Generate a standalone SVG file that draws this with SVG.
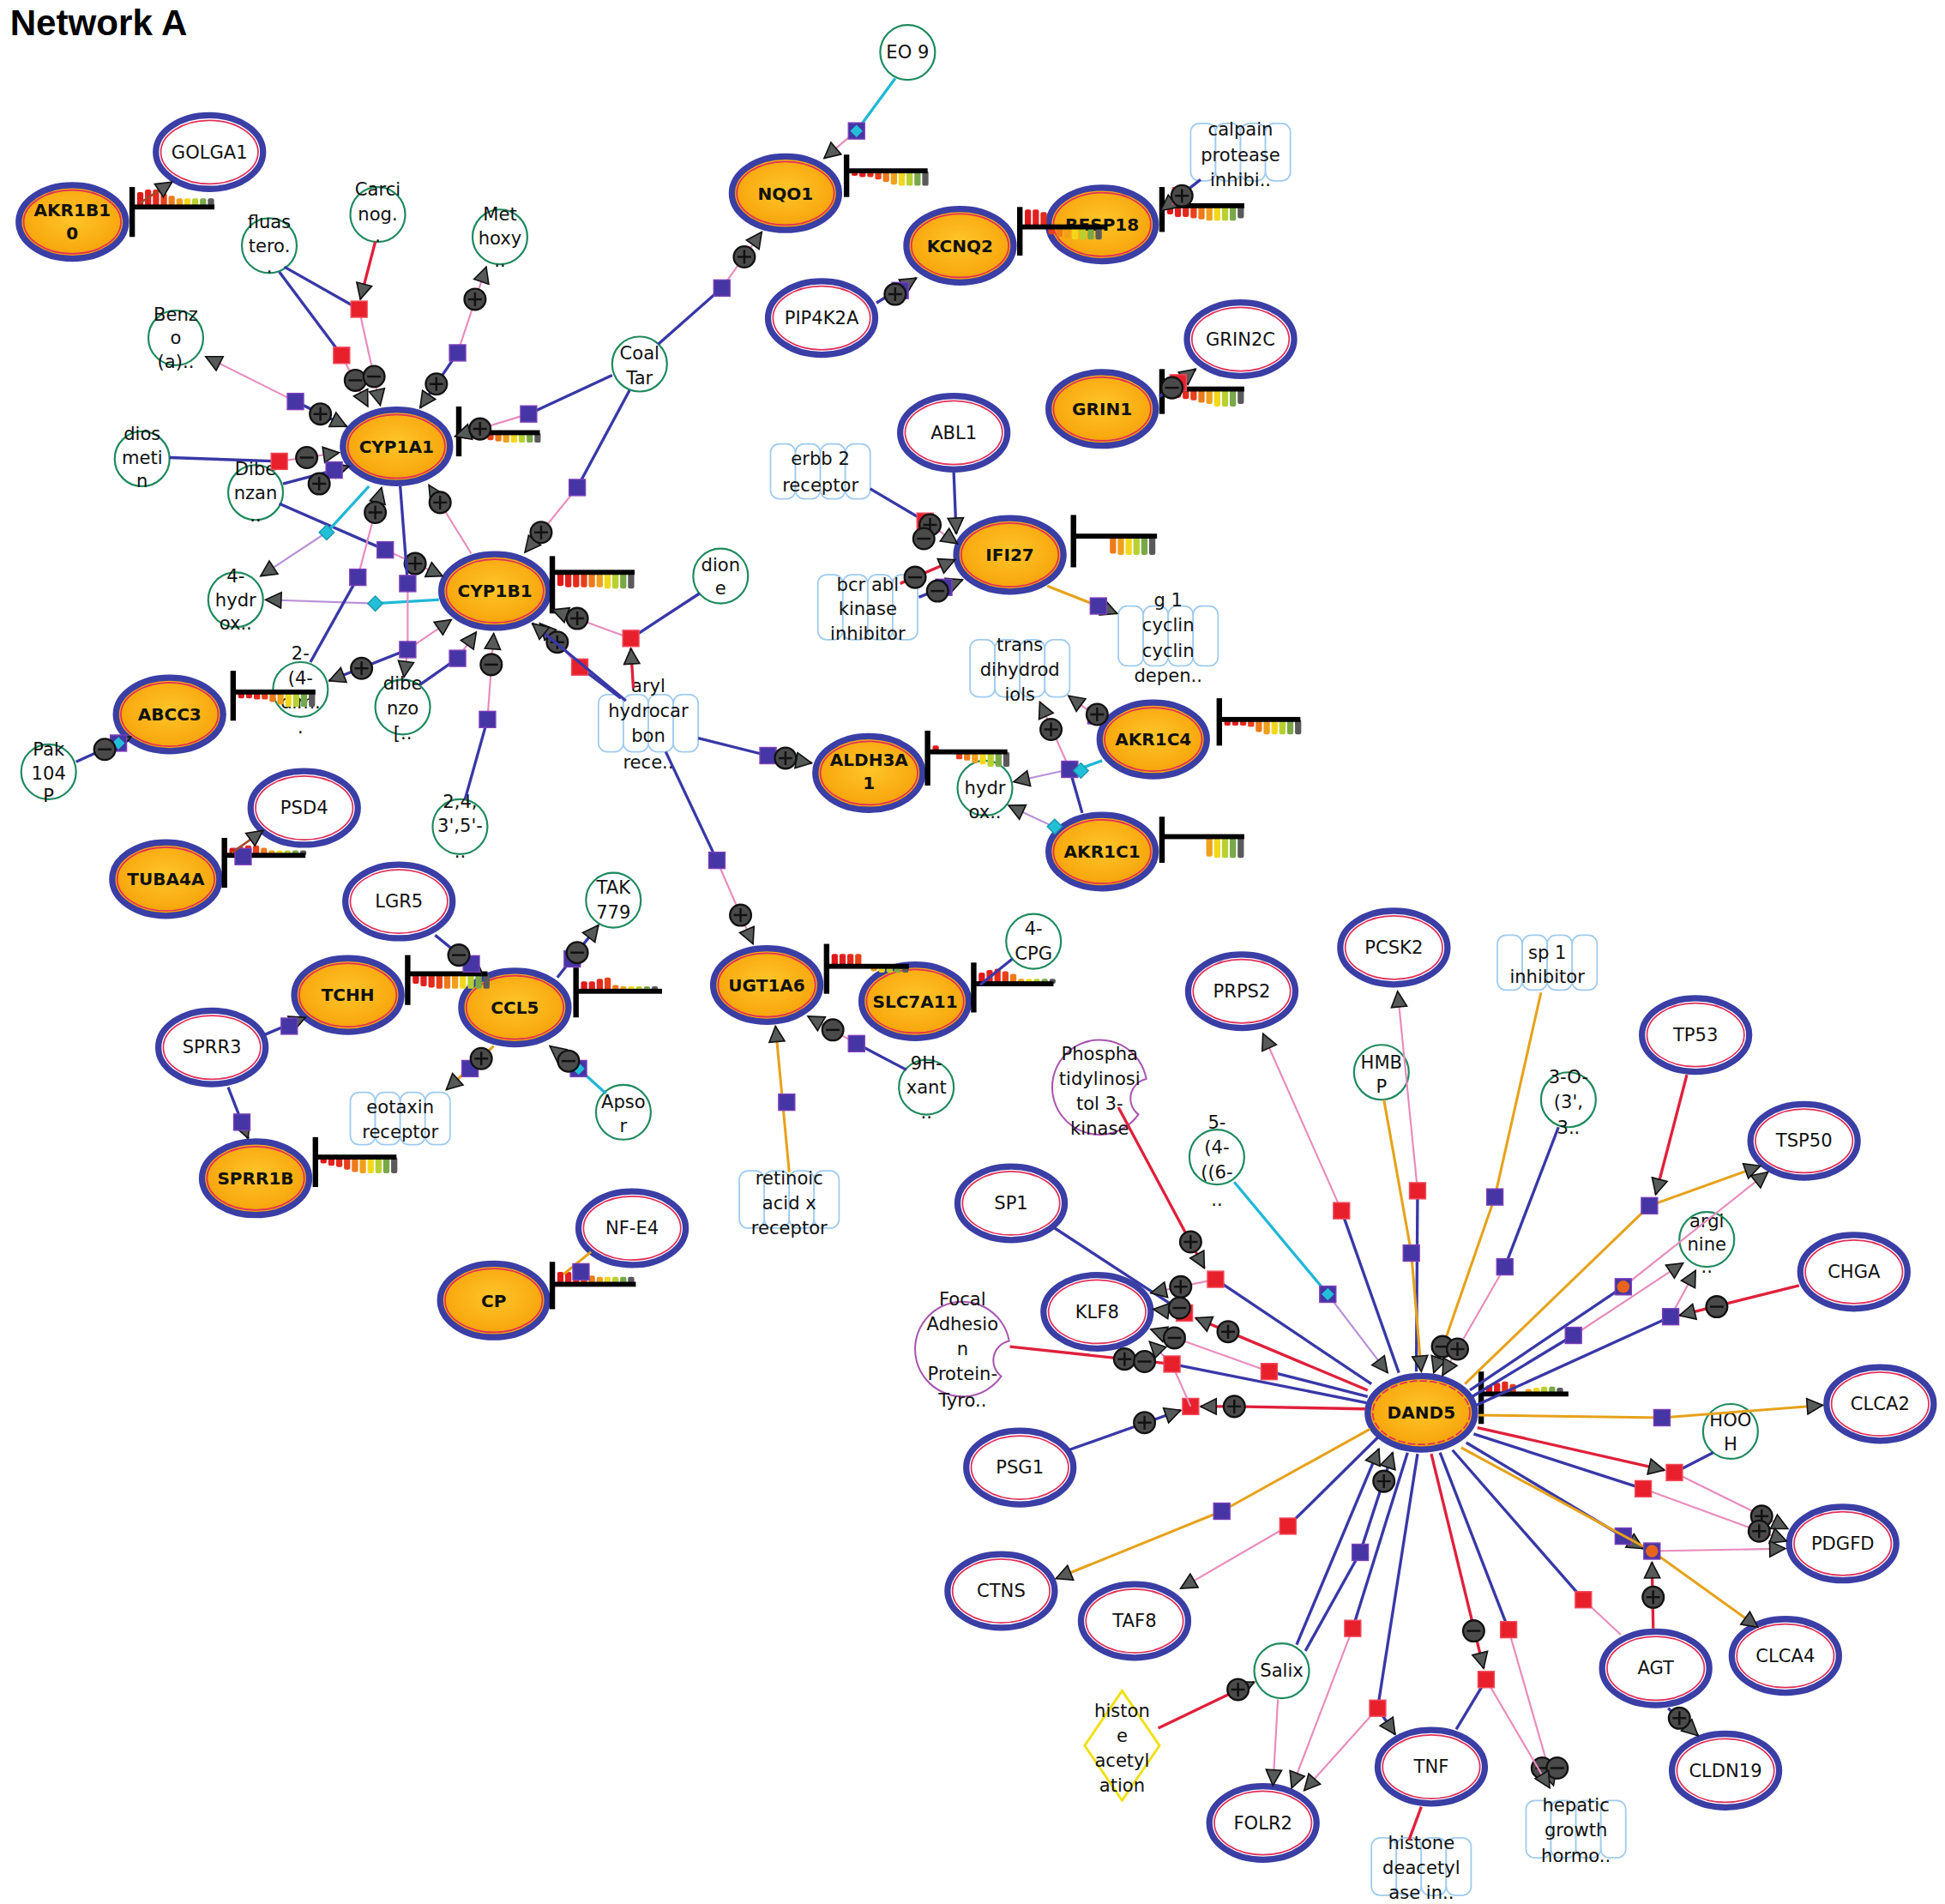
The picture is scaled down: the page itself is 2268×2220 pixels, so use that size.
<svg xmlns="http://www.w3.org/2000/svg" width="2268" height="2220" viewBox="0 0 2268 2220">
<style>
.t{font-family:'DejaVu Sans',Verdana,sans-serif;font-size:14.5px;text-anchor:middle;fill:#111}
.tb{font-family:'DejaVu Sans',Verdana,sans-serif;font-size:13.8px;font-weight:bold;text-anchor:middle;fill:#111}
.title{font-family:'Liberation Sans',Arial,sans-serif;font-size:29px;font-weight:bold;fill:#000}
.go{stroke:#3a3ea5;stroke-width:5;fill:url(#og)}
.gw{stroke:#3a3ea5;stroke-width:5;fill:#fff}
.gi{stroke:#e0305a;stroke-width:1.2;fill:none}
.ch{stroke:#1e8a5e;stroke-width:1.5;fill:#fff}
.bx rect{stroke:#9fcbee;stroke-width:1.2;fill:#fff}
.pm{stroke:#a855b0;stroke-width:1.4;fill:#fff}
.dm{stroke:#f0e010;stroke-width:2;fill:#fff}
.b{stroke:#3838a8;stroke-width:2.3;fill:none}
.p{stroke:#e88cbc;stroke-width:1.5;fill:none}
.r{stroke:#e0203c;stroke-width:2.3;fill:none}
.c{stroke:#20b8d6;stroke-width:2.3;fill:none}
.o{stroke:#e6a21a;stroke-width:2.1;fill:none}
.l{stroke:#b890d8;stroke-width:1.5;fill:none}
.n{stroke:#a04a2a;stroke-width:1.8;fill:none}
.a{marker-end:url(#ar)}
.bk{fill:#000}
.c0{fill:#e01818}.c1{fill:#e22020}.c2{fill:#e42a1c}.c3{fill:#e8401a}.c4{fill:#ee7a1a}.c5{fill:#f0a01a}.c6{fill:#f2d81a}.c7{fill:#b8d030}.c8{fill:#78a848}.c9{fill:#5a5a5a}
</style>
<defs>
<radialGradient id="og" cx="50%" cy="45%" r="60%"><stop offset="0" stop-color="#ffc52a"/><stop offset="0.7" stop-color="#f8aa10"/><stop offset="1" stop-color="#f29800"/></radialGradient>
<marker id="ar" viewBox="0 0 12 12" refX="11" refY="6" markerWidth="15" markerHeight="15" markerUnits="userSpaceOnUse" orient="auto"><path d="M1,1 L11,6 L1,11 z" fill="#565a58" stroke="#111" stroke-width="0.9"/></marker>
<g id="pl"><circle r="8.5" fill="#4a4a4a" stroke="#111" stroke-width="1.6"/><path d="M-5.5,0H5.5M0,-5.5V5.5" stroke="#111" stroke-width="1.7"/></g>
<g id="mi"><circle r="8.5" fill="#4a4a4a" stroke="#111" stroke-width="1.6"/><path d="M-5.5,0H5.5" stroke="#111" stroke-width="1.7"/></g>
<rect id="sb" x="-6.5" y="-6.5" width="13" height="13" fill="#4535a5" stroke="#7a3fb8" stroke-width="1"/>
<rect id="sr" x="-6.5" y="-6.5" width="13" height="13" fill="#e8202c" stroke="#f04a5a" stroke-width="1"/>
<g id="sc"><use href="#sb"/><path d="M0,-5 L5,0 L0,5 L-5,0z" fill="#22c0d8"/></g>
<g id="so"><use href="#sb"/><circle r="5" fill="#e8641c"/></g>
<path id="dc" d="M0,-6 L6,0 L0,6 L-6,0z" fill="#22c0d8" stroke="#1a9ab0"/>
</defs>
<rect width="2268" height="2220" fill="#fff"/>
<g transform="scale(1.4538)">
<text x="8" y="28" class="title">Network A</text>

<g id="nodes">
<g id="AKR1B10"><ellipse class="go" cx="58" cy="178" rx="43" ry="29.5"/><ellipse class="gi" cx="58" cy="178" rx="39" ry="25.5"/><text class="tb" x="58" y="173">AKR1B1</text><text class="tb" x="58" y="192">0</text></g>
<g id="GOLGA1"><ellipse class="gw" cx="168" cy="122" rx="43" ry="29.5"/><ellipse class="gi" cx="168" cy="122" rx="39" ry="25.5"/><text class="t" x="168" y="127">GOLGA1</text></g>
<g id="CYP1A1"><ellipse class="go" cx="318" cy="358" rx="43" ry="29.5"/><ellipse class="gi" cx="318" cy="358" rx="39" ry="25.5"/><text class="tb" x="318" y="363">CYP1A1</text></g>
<g id="CYP1B1"><ellipse class="go" cx="397" cy="474" rx="43" ry="29.5"/><ellipse class="gi" cx="397" cy="474" rx="39" ry="25.5"/><text class="tb" x="397" y="479">CYP1B1</text></g>
<g id="NQO1"><ellipse class="go" cx="630" cy="155" rx="43" ry="29.5"/><ellipse class="gi" cx="630" cy="155" rx="39" ry="25.5"/><text class="tb" x="630" y="160">NQO1</text></g>
<g id="RESP18"><ellipse class="go" cx="884" cy="180" rx="43" ry="29.5"/><ellipse class="gi" cx="884" cy="180" rx="39" ry="25.5"/><text class="tb" x="884" y="185">RESP18</text></g>
<g id="KCNQ2"><ellipse class="go" cx="770" cy="197" rx="43" ry="29.5"/><ellipse class="gi" cx="770" cy="197" rx="39" ry="25.5"/><text class="tb" x="770" y="202">KCNQ2</text></g>
<g id="PIP4K2A"><ellipse class="gw" cx="659" cy="255" rx="43" ry="29.5"/><ellipse class="gi" cx="659" cy="255" rx="39" ry="25.5"/><text class="t" x="659" y="260">PIP4K2A</text></g>
<g id="GRIN2C"><ellipse class="gw" cx="995" cy="272" rx="43" ry="29.5"/><ellipse class="gi" cx="995" cy="272" rx="39" ry="25.5"/><text class="t" x="995" y="277">GRIN2C</text></g>
<g id="GRIN1"><ellipse class="go" cx="884" cy="328" rx="43" ry="29.5"/><ellipse class="gi" cx="884" cy="328" rx="39" ry="25.5"/><text class="tb" x="884" y="333">GRIN1</text></g>
<g id="ABL1"><ellipse class="gw" cx="765" cy="347" rx="43" ry="29.5"/><ellipse class="gi" cx="765" cy="347" rx="39" ry="25.5"/><text class="t" x="765" y="352">ABL1</text></g>
<g id="IFI27"><ellipse class="go" cx="810" cy="445" rx="43" ry="29.5"/><ellipse class="gi" cx="810" cy="445" rx="39" ry="25.5"/><text class="tb" x="810" y="450">IFI27</text></g>
<g id="ABCC3"><ellipse class="go" cx="136" cy="573" rx="43" ry="29.5"/><ellipse class="gi" cx="136" cy="573" rx="39" ry="25.5"/><text class="tb" x="136" y="578">ABCC3</text></g>
<g id="PSD4"><ellipse class="gw" cx="244" cy="648" rx="43" ry="29.5"/><ellipse class="gi" cx="244" cy="648" rx="39" ry="25.5"/><text class="t" x="244" y="653">PSD4</text></g>
<g id="TUBA4A"><ellipse class="go" cx="133" cy="705" rx="43" ry="29.5"/><ellipse class="gi" cx="133" cy="705" rx="39" ry="25.5"/><text class="tb" x="133" y="710">TUBA4A</text></g>
<g id="ALDH3A1"><ellipse class="go" cx="697" cy="620" rx="43" ry="29.5"/><ellipse class="gi" cx="697" cy="620" rx="39" ry="25.5"/><text class="tb" x="697" y="614">ALDH3A</text><text class="tb" x="697" y="633">1</text></g>
<g id="AKR1C4"><ellipse class="go" cx="925" cy="593" rx="43" ry="29.5"/><ellipse class="gi" cx="925" cy="593" rx="39" ry="25.5"/><text class="tb" x="925" y="598">AKR1C4</text></g>
<g id="AKR1C1"><ellipse class="go" cx="884" cy="683" rx="43" ry="29.5"/><ellipse class="gi" cx="884" cy="683" rx="39" ry="25.5"/><text class="tb" x="884" y="688">AKR1C1</text></g>
<g id="LGR5"><ellipse class="gw" cx="320" cy="723" rx="43" ry="29.5"/><ellipse class="gi" cx="320" cy="723" rx="39" ry="25.5"/><text class="t" x="320" y="728">LGR5</text></g>
<g id="TCHH"><ellipse class="go" cx="279" cy="798" rx="43" ry="29.5"/><ellipse class="gi" cx="279" cy="798" rx="39" ry="25.5"/><text class="tb" x="279" y="803">TCHH</text></g>
<g id="CCL5"><ellipse class="go" cx="413" cy="808" rx="43" ry="29.5"/><ellipse class="gi" cx="413" cy="808" rx="39" ry="25.5"/><text class="tb" x="413" y="813">CCL5</text></g>
<g id="SPRR3"><ellipse class="gw" cx="170" cy="840" rx="43" ry="29.5"/><ellipse class="gi" cx="170" cy="840" rx="39" ry="25.5"/><text class="t" x="170" y="845">SPRR3</text></g>
<g id="SPRR1B"><ellipse class="go" cx="205" cy="945" rx="43" ry="29.5"/><ellipse class="gi" cx="205" cy="945" rx="39" ry="25.5"/><text class="tb" x="205" y="950">SPRR1B</text></g>
<g id="UGT1A6"><ellipse class="go" cx="615" cy="790" rx="43" ry="29.5"/><ellipse class="gi" cx="615" cy="790" rx="39" ry="25.5"/><text class="tb" x="615" y="795">UGT1A6</text></g>
<g id="SLC7A11"><ellipse class="go" cx="734" cy="803" rx="43" ry="29.5"/><ellipse class="gi" cx="734" cy="803" rx="39" ry="25.5"/><text class="tb" x="734" y="808">SLC7A11</text></g>
<g id="NF-E4"><ellipse class="gw" cx="507" cy="985" rx="43" ry="29.5"/><ellipse class="gi" cx="507" cy="985" rx="39" ry="25.5"/><text class="t" x="507" y="990">NF-E4</text></g>
<g id="CP"><ellipse class="go" cx="396" cy="1043" rx="43" ry="29.5"/><ellipse class="gi" cx="396" cy="1043" rx="39" ry="25.5"/><text class="tb" x="396" y="1048">CP</text></g>
<g id="PRPS2"><ellipse class="gw" cx="996" cy="795" rx="43" ry="29.5"/><ellipse class="gi" cx="996" cy="795" rx="39" ry="25.5"/><text class="t" x="996" y="800">PRPS2</text></g>
<g id="PCSK2"><ellipse class="gw" cx="1118" cy="760" rx="43" ry="29.5"/><ellipse class="gi" cx="1118" cy="760" rx="39" ry="25.5"/><text class="t" x="1118" y="765">PCSK2</text></g>
<g id="TP53"><ellipse class="gw" cx="1360" cy="830" rx="43" ry="29.5"/><ellipse class="gi" cx="1360" cy="830" rx="39" ry="25.5"/><text class="t" x="1360" y="835">TP53</text></g>
<g id="TSP50"><ellipse class="gw" cx="1447" cy="915" rx="43" ry="29.5"/><ellipse class="gi" cx="1447" cy="915" rx="39" ry="25.5"/><text class="t" x="1447" y="920">TSP50</text></g>
<g id="SP1"><ellipse class="gw" cx="811" cy="965" rx="43" ry="29.5"/><ellipse class="gi" cx="811" cy="965" rx="39" ry="25.5"/><text class="t" x="811" y="970">SP1</text></g>
<g id="KLF8"><ellipse class="gw" cx="880" cy="1052" rx="43" ry="29.5"/><ellipse class="gi" cx="880" cy="1052" rx="39" ry="25.5"/><text class="t" x="880" y="1057">KLF8</text></g>
<g id="CHGA"><ellipse class="gw" cx="1487" cy="1020" rx="43" ry="29.5"/><ellipse class="gi" cx="1487" cy="1020" rx="39" ry="25.5"/><text class="t" x="1487" y="1025">CHGA</text></g>
<g id="CLCA2"><ellipse class="gw" cx="1508" cy="1126" rx="43" ry="29.5"/><ellipse class="gi" cx="1508" cy="1126" rx="39" ry="25.5"/><text class="t" x="1508" y="1131">CLCA2</text></g>
<g id="PSG1"><ellipse class="gw" cx="818" cy="1177" rx="43" ry="29.5"/><ellipse class="gi" cx="818" cy="1177" rx="39" ry="25.5"/><text class="t" x="818" y="1182">PSG1</text></g>
<g id="PDGFD"><ellipse class="gw" cx="1478" cy="1238" rx="43" ry="29.5"/><ellipse class="gi" cx="1478" cy="1238" rx="39" ry="25.5"/><text class="t" x="1478" y="1243">PDGFD</text></g>
<g id="CTNS"><ellipse class="gw" cx="803" cy="1276" rx="43" ry="29.5"/><ellipse class="gi" cx="803" cy="1276" rx="39" ry="25.5"/><text class="t" x="803" y="1281">CTNS</text></g>
<g id="TAF8"><ellipse class="gw" cx="910" cy="1300" rx="43" ry="29.5"/><ellipse class="gi" cx="910" cy="1300" rx="39" ry="25.5"/><text class="t" x="910" y="1305">TAF8</text></g>
<g id="AGT"><ellipse class="gw" cx="1328" cy="1338" rx="43" ry="29.5"/><ellipse class="gi" cx="1328" cy="1338" rx="39" ry="25.5"/><text class="t" x="1328" y="1343">AGT</text></g>
<g id="CLCA4"><ellipse class="gw" cx="1432" cy="1328" rx="43" ry="29.5"/><ellipse class="gi" cx="1432" cy="1328" rx="39" ry="25.5"/><text class="t" x="1432" y="1333">CLCA4</text></g>
<g id="CLDN19"><ellipse class="gw" cx="1384" cy="1420" rx="43" ry="29.5"/><ellipse class="gi" cx="1384" cy="1420" rx="39" ry="25.5"/><text class="t" x="1384" y="1425">CLDN19</text></g>
<g id="TNF"><ellipse class="gw" cx="1148" cy="1417" rx="43" ry="29.5"/><ellipse class="gi" cx="1148" cy="1417" rx="39" ry="25.5"/><text class="t" x="1148" y="1422">TNF</text></g>
<g id="FOLR2"><ellipse class="gw" cx="1013" cy="1462" rx="43" ry="29.5"/><ellipse class="gi" cx="1013" cy="1462" rx="39" ry="25.5"/><text class="t" x="1013" y="1467">FOLR2</text></g>
<g id="DAND5"><ellipse class="go" cx="1140" cy="1133" rx="43" ry="29.5"/><ellipse class="gi" cx="1140" cy="1133" rx="39" ry="25.5" stroke-dasharray="6 2"/><text class="tb" x="1140" y="1138">DAND5</text></g>

<g id="chem_EO9"><circle class="ch" cx="728" cy="42" r="22"/><text class="t" x="728" y="47">EO 9</text></g>
<g id="chem_Carci"><circle class="ch" cx="303" cy="172" r="22"/><text class="t" x="303" y="157">Carci</text><text class="t" x="303" y="177">nog.</text><text class="t" x="303" y="194">.</text></g>
<g id="chem_fluas"><circle class="ch" cx="216" cy="197" r="22"/><text class="t" x="216" y="183">fluas</text><text class="t" x="216" y="202">tero.</text><text class="t" x="216" y="219">.</text></g>
<g id="chem_Met"><circle class="ch" cx="401" cy="190" r="22"/><text class="t" x="401" y="177">Met</text><text class="t" x="401" y="196">hoxy</text><text class="t" x="401" y="214">..</text></g>
<g id="chem_Benz"><circle class="ch" cx="141" cy="271" r="22"/><text class="t" x="141" y="257">Benz</text><text class="t" x="141" y="276">o</text><text class="t" x="141" y="295">(a)..</text></g>
<g id="chem_CoalTar"><circle class="ch" cx="513" cy="292" r="22"/><text class="t" x="513" y="288">Coal</text><text class="t" x="513" y="308">Tar</text></g>
<g id="chem_dios"><circle class="ch" cx="114" cy="368" r="22"/><text class="t" x="114" y="353">dios</text><text class="t" x="114" y="372">meti</text><text class="t" x="114" y="391">n</text></g>
<g id="chem_Dibenzan"><circle class="ch" cx="205" cy="395" r="22"/><text class="t" x="205" y="381">Dibe</text><text class="t" x="205" y="400">nzan</text><text class="t" x="205" y="418">..</text></g>
<g id="chem_4hydr"><circle class="ch" cx="189" cy="481" r="22"/><text class="t" x="189" y="467">4-</text><text class="t" x="189" y="486">hydr</text><text class="t" x="189" y="505">ox..</text></g>
<g id="chem_24dim"><circle class="ch" cx="241" cy="553" r="22"/><text class="t" x="241" y="529">2-</text><text class="t" x="241" y="549">(4-</text><text class="t" x="241" y="568">dim.</text><text class="t" x="241" y="588">.</text></g>
<g id="chem_dibenzo"><circle class="ch" cx="323" cy="567" r="22"/><text class="t" x="323" y="553">dibe</text><text class="t" x="323" y="573">nzo</text><text class="t" x="323" y="593">[..</text></g>
<g id="chem_2435"><circle class="ch" cx="369" cy="663" r="22"/><text class="t" x="369" y="648">2,4,</text><text class="t" x="369" y="667">3',5'-</text><text class="t" x="369" y="688">..</text></g>
<g id="chem_Pak104P"><circle class="ch" cx="39" cy="619" r="22"/><text class="t" x="39" y="606">Pak</text><text class="t" x="39" y="625">104</text><text class="t" x="39" y="643">P</text></g>
<g id="chem_dione"><circle class="ch" cx="578" cy="462" r="22"/><text class="t" x="578" y="458">dion</text><text class="t" x="578" y="477">e</text></g>
<g id="chem_hydrox"><circle class="ch" cx="790" cy="632" r="22"/><text class="t" x="790" y="637">hydr</text><text class="t" x="790" y="656">ox..</text></g>
<g id="chem_4CPG"><circle class="ch" cx="829" cy="755" r="22"/><text class="t" x="829" y="750">4-</text><text class="t" x="829" y="770">CPG</text></g>
<g id="chem_9Hxant"><circle class="ch" cx="743" cy="872" r="22"/><text class="t" x="743" y="858">9H-</text><text class="t" x="743" y="877">xant</text><text class="t" x="743" y="897">..</text></g>
<g id="chem_TAK779"><circle class="ch" cx="492" cy="722" r="22"/><text class="t" x="492" y="717">TAK</text><text class="t" x="492" y="737">779</text></g>
<g id="chem_Apsor"><circle class="ch" cx="500" cy="892" r="22"/><text class="t" x="500" y="889">Apso</text><text class="t" x="500" y="908">r</text></g>
<g id="chem_HMBP"><circle class="ch" cx="1108" cy="860" r="22"/><text class="t" x="1108" y="857">HMB</text><text class="t" x="1108" y="876">P</text></g>
<g id="chem_3O"><circle class="ch" cx="1258" cy="882" r="22"/><text class="t" x="1258" y="869">3-O-</text><text class="t" x="1258" y="889">(3',</text><text class="t" x="1258" y="909">3..</text></g>
<g id="chem_546"><circle class="ch" cx="976" cy="928" r="22"/><text class="t" x="976" y="905">5-</text><text class="t" x="976" y="925">(4-</text><text class="t" x="976" y="945">((6-</text><text class="t" x="976" y="967">..</text></g>
<g id="chem_arginine"><circle class="ch" cx="1369" cy="994" r="22"/><text class="t" x="1369" y="984">argi</text><text class="t" x="1369" y="1003">nine</text><text class="t" x="1369" y="1021">..</text></g>
<g id="chem_HOOH"><circle class="ch" cx="1388" cy="1148" r="22"/><text class="t" x="1388" y="1144">HOO</text><text class="t" x="1388" y="1163">H</text></g>
<g id="chem_Salix"><circle class="ch" cx="1028" cy="1340" r="22"/><text class="t" x="1028" y="1345">Salix</text></g>

<g id="fam_calpain" class="bx"><rect x="955" y="99" width="20" height="46" rx="7"/><rect x="975" y="99" width="20" height="46" rx="7"/><rect x="995" y="99" width="20" height="46" rx="7"/><rect x="1015" y="99" width="20" height="46" rx="7"/><text class="t" x="995" y="109">calpain</text><text class="t" x="995" y="129">protease</text><text class="t" x="995" y="149">inhibi..</text></g>
<g id="fam_erbb2" class="bx"><rect x="618" y="356" width="20" height="44" rx="7"/><rect x="638" y="356" width="20" height="44" rx="7"/><rect x="658" y="356" width="20" height="44" rx="7"/><rect x="678" y="356" width="20" height="44" rx="7"/><text class="t" x="658" y="373">erbb 2</text><text class="t" x="658" y="394">receptor</text></g>
<g id="fam_bcrabl" class="bx"><rect x="656" y="461" width="20" height="52" rx="7"/><rect x="676" y="461" width="20" height="52" rx="7"/><rect x="696" y="461" width="20" height="52" rx="7"/><rect x="716" y="461" width="20" height="52" rx="7"/><text class="t" x="696" y="474">bcr abl</text><text class="t" x="696" y="493">kinase</text><text class="t" x="696" y="513">inhibitor</text></g>
<g id="fam_g1cyclin" class="bx"><rect x="897" y="486" width="20" height="48" rx="7"/><rect x="917" y="486" width="20" height="48" rx="7"/><rect x="937" y="486" width="20" height="48" rx="7"/><rect x="957" y="486" width="20" height="48" rx="7"/><text class="t" x="937" y="486">g 1</text><text class="t" x="937" y="506">cyclin</text><text class="t" x="937" y="527">cyclin</text><text class="t" x="937" y="547">depen..</text></g>
<g id="fam_trans" class="bx"><rect x="778" y="513" width="20" height="46" rx="7"/><rect x="798" y="513" width="20" height="46" rx="7"/><rect x="818" y="513" width="20" height="46" rx="7"/><rect x="838" y="513" width="20" height="46" rx="7"/><text class="t" x="818" y="522">trans</text><text class="t" x="818" y="542">dihydrod</text><text class="t" x="818" y="562">iols</text></g>
<g id="fam_aryl" class="bx"><rect x="480" y="557" width="20" height="46" rx="7"/><rect x="500" y="557" width="20" height="46" rx="7"/><rect x="520" y="557" width="20" height="46" rx="7"/><rect x="540" y="557" width="20" height="46" rx="7"/><text class="t" x="520" y="555">aryl</text><text class="t" x="520" y="575">hydrocar</text><text class="t" x="520" y="595">bon</text><text class="t" x="520" y="616">rece..</text></g>
<g id="fam_eotaxin" class="bx"><rect x="281" y="876" width="20" height="42" rx="7"/><rect x="301" y="876" width="20" height="42" rx="7"/><rect x="321" y="876" width="20" height="42" rx="7"/><rect x="341" y="876" width="20" height="42" rx="7"/><text class="t" x="321" y="893">eotaxin</text><text class="t" x="321" y="913">receptor</text></g>
<g id="fam_retinoic" class="bx"><rect x="593" y="939" width="20" height="46" rx="7"/><rect x="613" y="939" width="20" height="46" rx="7"/><rect x="633" y="939" width="20" height="46" rx="7"/><rect x="653" y="939" width="20" height="46" rx="7"/><text class="t" x="633" y="950">retinoic</text><text class="t" x="633" y="970">acid x</text><text class="t" x="633" y="990">receptor</text></g>
<g id="fam_sp1inh" class="bx"><rect x="1201" y="750" width="20" height="44" rx="7"/><rect x="1221" y="750" width="20" height="44" rx="7"/><rect x="1241" y="750" width="20" height="44" rx="7"/><rect x="1261" y="750" width="20" height="44" rx="7"/><text class="t" x="1241" y="769">sp 1</text><text class="t" x="1241" y="788">inhibitor</text></g>
<g id="fam_hdac" class="bx"><rect x="1100" y="1474" width="20" height="46" rx="7"/><rect x="1120" y="1474" width="20" height="46" rx="7"/><rect x="1140" y="1474" width="20" height="46" rx="7"/><rect x="1160" y="1474" width="20" height="46" rx="7"/><text class="t" x="1140" y="1483">histone</text><text class="t" x="1140" y="1503">deacetyl</text><text class="t" x="1140" y="1523">ase in..</text></g>
<g id="fam_hepatic" class="bx"><rect x="1224" y="1444" width="20" height="46" rx="7"/><rect x="1244" y="1444" width="20" height="46" rx="7"/><rect x="1264" y="1444" width="20" height="46" rx="7"/><rect x="1284" y="1444" width="20" height="46" rx="7"/><text class="t" x="1264" y="1453">hepatic</text><text class="t" x="1264" y="1473">growth</text><text class="t" x="1264" y="1493">hormo..</text></g>

<g id="cls_PI3K"><path class="pm" d="M919.4,865.4 A38,38 0 1 0 913.1,893.8 A16,16 0 0 1 919.4,865.4 Z"/><text class="t" x="882" y="850">Phospha</text><text class="t" x="882" y="870">tidylinosi</text><text class="t" x="882" y="890">tol 3-</text><text class="t" x="882" y="910">kinase</text></g>
<g id="cls_FAK"><path class="pm" d="M809.4,1075.4 A38,38 0 1 0 803.1,1103.8 A16,16 0 0 1 809.4,1075.4 Z"/><text class="t" x="772" y="1047">Focal</text><text class="t" x="772" y="1067">Adhesio</text><text class="t" x="772" y="1087">n</text><text class="t" x="772" y="1107">Protein-</text><text class="t" x="772" y="1128">Tyro..</text></g>
<g id="proc_histacet"><polygon class="dm" points="900,1356 930,1400 900,1444 870,1400"/><text class="t" x="900" y="1377">histon</text><text class="t" x="900" y="1397">e</text><text class="t" x="900" y="1417">acetyl</text><text class="t" x="900" y="1437">ation</text></g>
</g>

<g id="charts">
<g transform="translate(106,166)"><rect class="c0" x="4" y="-12" width="5" height="12" rx="1.5"/><rect class="c1" x="10.3" y="-14" width="5" height="14" rx="1.5"/><rect class="c2" x="16.6" y="-14" width="5" height="14" rx="1.5"/><rect class="c3" x="22.9" y="-11" width="5" height="11" rx="1.5"/><rect class="c4" x="29.2" y="-9" width="5" height="9" rx="1.5"/><rect class="c5" x="35.5" y="-7" width="5" height="7" rx="1.5"/><rect class="c6" x="41.8" y="-7" width="5" height="7" rx="1.5"/><rect class="c7" x="48.1" y="-7" width="5" height="7" rx="1.5"/><rect class="c8" x="54.4" y="-7" width="5" height="7" rx="1.5"/><rect class="c9" x="60.7" y="-7" width="5" height="7" rx="1.5"/><rect class="bk" x="0" y="-2" width="66" height="4"/><rect class="bk" x="-2.2" y="-16" width="4.4" height="40"/></g>
<g transform="translate(368,347)"><rect class="c0" x="4" y="0" width="5" height="5" rx="1.5"/><rect class="c1" x="10.3" y="0" width="5" height="5" rx="1.5"/><rect class="c2" x="16.6" y="0" width="5" height="5" rx="1.5"/><rect class="c3" x="22.9" y="0" width="5" height="6" rx="1.5"/><rect class="c4" x="29.2" y="0" width="5" height="7" rx="1.5"/><rect class="c5" x="35.5" y="0" width="5" height="8" rx="1.5"/><rect class="c6" x="41.8" y="0" width="5" height="8" rx="1.5"/><rect class="c7" x="48.1" y="0" width="5" height="8" rx="1.5"/><rect class="c8" x="54.4" y="0" width="5" height="8" rx="1.5"/><rect class="c9" x="60.7" y="0" width="5" height="8" rx="1.5"/><rect class="bk" x="0" y="-2" width="65" height="4"/><rect class="bk" x="-2.2" y="-21" width="4.4" height="40"/></g>
<g transform="translate(443,459)"><rect class="c0" x="4" y="0" width="5" height="11" rx="1.5"/><rect class="c1" x="10.3" y="0" width="5" height="12" rx="1.5"/><rect class="c2" x="16.6" y="0" width="5" height="12" rx="1.5"/><rect class="c3" x="22.9" y="0" width="5" height="12" rx="1.5"/><rect class="c4" x="29.2" y="0" width="5" height="12" rx="1.5"/><rect class="c5" x="35.5" y="0" width="5" height="12" rx="1.5"/><rect class="c6" x="41.8" y="0" width="5" height="13" rx="1.5"/><rect class="c7" x="48.1" y="0" width="5" height="13" rx="1.5"/><rect class="c8" x="54.4" y="0" width="5" height="13" rx="1.5"/><rect class="c9" x="60.7" y="0" width="5" height="13" rx="1.5"/><rect class="bk" x="0" y="-2" width="66" height="4"/><rect class="bk" x="-2.2" y="-13" width="4.4" height="46"/></g>
<g transform="translate(679,137)"><rect class="c0" x="4" y="0" width="5" height="4" rx="1.5"/><rect class="c1" x="10.3" y="0" width="5" height="5" rx="1.5"/><rect class="c2" x="16.6" y="0" width="5" height="5" rx="1.5"/><rect class="c3" x="22.9" y="0" width="5" height="7" rx="1.5"/><rect class="c4" x="29.2" y="0" width="5" height="9" rx="1.5"/><rect class="c5" x="35.5" y="0" width="5" height="11" rx="1.5"/><rect class="c6" x="41.8" y="0" width="5" height="12" rx="1.5"/><rect class="c7" x="48.1" y="0" width="5" height="12" rx="1.5"/><rect class="c8" x="54.4" y="0" width="5" height="12" rx="1.5"/><rect class="c9" x="60.7" y="0" width="5" height="12" rx="1.5"/><rect class="bk" x="0" y="-2" width="65" height="4"/><rect class="bk" x="-2.2" y="-13" width="4.4" height="34"/></g>
<g transform="translate(932,165)"><rect class="c0" x="4" y="0" width="5" height="7" rx="1.5"/><rect class="c1" x="10.3" y="0" width="5" height="9" rx="1.5"/><rect class="c2" x="16.6" y="0" width="5" height="9" rx="1.5"/><rect class="c3" x="22.9" y="0" width="5" height="10" rx="1.5"/><rect class="c4" x="29.2" y="0" width="5" height="11" rx="1.5"/><rect class="c5" x="35.5" y="0" width="5" height="12" rx="1.5"/><rect class="c6" x="41.8" y="0" width="5" height="12" rx="1.5"/><rect class="c7" x="48.1" y="0" width="5" height="12" rx="1.5"/><rect class="c8" x="54.4" y="0" width="5" height="12" rx="1.5"/><rect class="c9" x="60.7" y="0" width="5" height="10" rx="1.5"/><rect class="bk" x="0" y="-2" width="66" height="4"/><rect class="bk" x="-2.2" y="-15" width="4.4" height="36"/></g>
<g transform="translate(818,182)"><rect class="c0" x="4" y="-14" width="5" height="14" rx="1.5"/><rect class="c1" x="10.3" y="-14" width="5" height="14" rx="1.5"/><rect class="c2" x="16.6" y="-12" width="5" height="12" rx="1.5"/><rect class="c3" x="22.9" y="0" width="5" height="6" rx="1.5"/><rect class="c4" x="29.2" y="0" width="5" height="8" rx="1.5"/><rect class="c5" x="35.5" y="0" width="5" height="9" rx="1.5"/><rect class="c6" x="41.8" y="0" width="5" height="10" rx="1.5"/><rect class="c7" x="48.1" y="0" width="5" height="10" rx="1.5"/><rect class="c8" x="54.4" y="0" width="5" height="10" rx="1.5"/><rect class="c9" x="60.7" y="0" width="5" height="10" rx="1.5"/><rect class="bk" x="0" y="-2" width="70" height="4"/><rect class="bk" x="-2.2" y="-16" width="4.4" height="39"/></g>
<g transform="translate(932,312)"><rect class="c0" x="4" y="0" width="5" height="6" rx="1.5"/><rect class="c1" x="10.3" y="0" width="5" height="7" rx="1.5"/><rect class="c2" x="16.6" y="0" width="5" height="8" rx="1.5"/><rect class="c3" x="22.9" y="0" width="5" height="9" rx="1.5"/><rect class="c4" x="29.2" y="0" width="5" height="11" rx="1.5"/><rect class="c5" x="35.5" y="0" width="5" height="12" rx="1.5"/><rect class="c6" x="41.8" y="0" width="5" height="14" rx="1.5"/><rect class="c7" x="48.1" y="0" width="5" height="14" rx="1.5"/><rect class="c8" x="54.4" y="0" width="5" height="14" rx="1.5"/><rect class="c9" x="60.7" y="0" width="5" height="12" rx="1.5"/><rect class="bk" x="0" y="-2" width="66" height="4"/><rect class="bk" x="-2.2" y="-16" width="4.4" height="36"/></g>
<g transform="translate(861,430)"><rect class="c4" x="29.2" y="0" width="5" height="14" rx="1.5"/><rect class="c5" x="35.5" y="0" width="5" height="15" rx="1.5"/><rect class="c6" x="41.8" y="0" width="5" height="15" rx="1.5"/><rect class="c7" x="48.1" y="0" width="5" height="15" rx="1.5"/><rect class="c8" x="54.4" y="0" width="5" height="15" rx="1.5"/><rect class="c9" x="60.7" y="0" width="5" height="15" rx="1.5"/><rect class="bk" x="0" y="-2" width="67" height="4"/><rect class="bk" x="-2.2" y="-17" width="4.4" height="42"/></g>
<g transform="translate(187,555)"><rect class="c0" x="4" y="0" width="5" height="5" rx="1.5"/><rect class="c1" x="10.3" y="0" width="5" height="5" rx="1.5"/><rect class="c2" x="16.6" y="0" width="5" height="6" rx="1.5"/><rect class="c3" x="22.9" y="0" width="5" height="6" rx="1.5"/><rect class="c4" x="29.2" y="0" width="5" height="8" rx="1.5"/><rect class="c5" x="35.5" y="0" width="5" height="10" rx="1.5"/><rect class="c6" x="41.8" y="0" width="5" height="12" rx="1.5"/><rect class="c7" x="48.1" y="0" width="5" height="12" rx="1.5"/><rect class="c8" x="54.4" y="0" width="5" height="12" rx="1.5"/><rect class="c9" x="60.7" y="0" width="5" height="12" rx="1.5"/><rect class="bk" x="0" y="-2" width="66" height="4"/><rect class="bk" x="-2.2" y="-17" width="4.4" height="40"/></g>
<g transform="translate(180,686)"><rect class="c0" x="4" y="-6" width="5" height="6" rx="1.5"/><rect class="c1" x="10.3" y="-7" width="5" height="7" rx="1.5"/><rect class="c2" x="16.6" y="-8" width="5" height="8" rx="1.5"/><rect class="c3" x="22.9" y="-8" width="5" height="8" rx="1.5"/><rect class="c4" x="29.2" y="-6" width="5" height="6" rx="1.5"/><rect class="c5" x="35.5" y="-4" width="5" height="4" rx="1.5"/><rect class="c6" x="41.8" y="-4" width="5" height="4" rx="1.5"/><rect class="c7" x="48.1" y="-4" width="5" height="4" rx="1.5"/><rect class="c8" x="54.4" y="-4" width="5" height="4" rx="1.5"/><rect class="c9" x="60.7" y="-4" width="5" height="4" rx="1.5"/><rect class="bk" x="0" y="-2" width="65" height="4"/><rect class="bk" x="-2.2" y="-14" width="4.4" height="40"/></g>
<g transform="translate(744,603)"><rect class="c0" x="4" y="-5" width="5" height="5" rx="1.5"/><rect class="c3" x="22.9" y="0" width="5" height="6" rx="1.5"/><rect class="c4" x="29.2" y="0" width="5" height="7" rx="1.5"/><rect class="c5" x="35.5" y="0" width="5" height="9" rx="1.5"/><rect class="c6" x="41.8" y="0" width="5" height="10" rx="1.5"/><rect class="c7" x="48.1" y="0" width="5" height="12" rx="1.5"/><rect class="c8" x="54.4" y="0" width="5" height="12" rx="1.5"/><rect class="c9" x="60.7" y="0" width="5" height="12" rx="1.5"/><rect class="bk" x="0" y="-2" width="64" height="4"/><rect class="bk" x="-2.2" y="-17" width="4.4" height="44"/></g>
<g transform="translate(978,577)"><rect class="c0" x="4" y="0" width="5" height="5" rx="1.5"/><rect class="c1" x="10.3" y="0" width="5" height="5" rx="1.5"/><rect class="c2" x="16.6" y="0" width="5" height="5" rx="1.5"/><rect class="c3" x="22.9" y="0" width="5" height="6" rx="1.5"/><rect class="c4" x="29.2" y="0" width="5" height="10" rx="1.5"/><rect class="c5" x="35.5" y="0" width="5" height="12" rx="1.5"/><rect class="c6" x="41.8" y="0" width="5" height="12" rx="1.5"/><rect class="c7" x="48.1" y="0" width="5" height="12" rx="1.5"/><rect class="c8" x="54.4" y="0" width="5" height="12" rx="1.5"/><rect class="c9" x="60.7" y="0" width="5" height="12" rx="1.5"/><rect class="bk" x="0" y="-2" width="65" height="4"/><rect class="bk" x="-2.2" y="-17" width="4.4" height="38"/></g>
<g transform="translate(932,671)"><rect class="c5" x="35.5" y="0" width="5" height="16" rx="1.5"/><rect class="c6" x="41.8" y="0" width="5" height="17" rx="1.5"/><rect class="c7" x="48.1" y="0" width="5" height="17" rx="1.5"/><rect class="c8" x="54.4" y="0" width="5" height="17" rx="1.5"/><rect class="c9" x="60.7" y="0" width="5" height="17" rx="1.5"/><rect class="bk" x="0" y="-2" width="66" height="4"/><rect class="bk" x="-2.2" y="-16" width="4.4" height="37"/></g>
<g transform="translate(327,781)"><rect class="c0" x="4" y="0" width="5" height="8" rx="1.5"/><rect class="c1" x="10.3" y="0" width="5" height="10" rx="1.5"/><rect class="c2" x="16.6" y="0" width="5" height="11" rx="1.5"/><rect class="c3" x="22.9" y="0" width="5" height="12" rx="1.5"/><rect class="c4" x="29.2" y="0" width="5" height="12" rx="1.5"/><rect class="c5" x="35.5" y="0" width="5" height="12" rx="1.5"/><rect class="c6" x="41.8" y="0" width="5" height="12" rx="1.5"/><rect class="c7" x="48.1" y="0" width="5" height="12" rx="1.5"/><rect class="c8" x="54.4" y="0" width="5" height="12" rx="1.5"/><rect class="c9" x="60.7" y="0" width="5" height="12" rx="1.5"/><rect class="bk" x="0" y="-2" width="64" height="4"/><rect class="bk" x="-2.2" y="-15" width="4.4" height="40"/></g>
<g transform="translate(462,795)"><rect class="c0" x="4" y="-8" width="5" height="8" rx="1.5"/><rect class="c1" x="10.3" y="-8" width="5" height="8" rx="1.5"/><rect class="c2" x="16.6" y="-10" width="5" height="10" rx="1.5"/><rect class="c3" x="22.9" y="-11" width="5" height="11" rx="1.5"/><rect class="c4" x="29.2" y="-5" width="5" height="5" rx="1.5"/><rect class="c5" x="35.5" y="-4" width="5" height="4" rx="1.5"/><rect class="c6" x="41.8" y="-4" width="5" height="4" rx="1.5"/><rect class="c7" x="48.1" y="-4" width="5" height="4" rx="1.5"/><rect class="c8" x="54.4" y="-4" width="5" height="4" rx="1.5"/><rect class="c9" x="60.7" y="-4" width="5" height="4" rx="1.5"/><rect class="bk" x="0" y="-2" width="69" height="4"/><rect class="bk" x="-2.2" y="-19" width="4.4" height="40"/></g>
<g transform="translate(253,928)"><rect class="c0" x="4" y="0" width="5" height="5" rx="1.5"/><rect class="c1" x="10.3" y="0" width="5" height="7" rx="1.5"/><rect class="c2" x="16.6" y="0" width="5" height="8" rx="1.5"/><rect class="c3" x="22.9" y="0" width="5" height="10" rx="1.5"/><rect class="c4" x="29.2" y="0" width="5" height="12" rx="1.5"/><rect class="c5" x="35.5" y="0" width="5" height="13" rx="1.5"/><rect class="c6" x="41.8" y="0" width="5" height="13" rx="1.5"/><rect class="c7" x="48.1" y="0" width="5" height="13" rx="1.5"/><rect class="c8" x="54.4" y="0" width="5" height="13" rx="1.5"/><rect class="c9" x="60.7" y="0" width="5" height="13" rx="1.5"/><rect class="bk" x="0" y="-2" width="65" height="4"/><rect class="bk" x="-2.2" y="-16" width="4.4" height="40"/></g>
<g transform="translate(663,775)"><rect class="c0" x="4" y="-10" width="5" height="10" rx="1.5"/><rect class="c1" x="10.3" y="-10" width="5" height="10" rx="1.5"/><rect class="c2" x="16.6" y="-10" width="5" height="10" rx="1.5"/><rect class="c3" x="22.9" y="-10" width="5" height="10" rx="1.5"/><rect class="c5" x="35.5" y="0" width="5" height="4" rx="1.5"/><rect class="c6" x="41.8" y="0" width="5" height="5" rx="1.5"/><rect class="c7" x="48.1" y="0" width="5" height="5" rx="1.5"/><rect class="c8" x="54.4" y="0" width="5" height="5" rx="1.5"/><rect class="c9" x="60.7" y="0" width="5" height="5" rx="1.5"/><rect class="bk" x="0" y="-2" width="66" height="4"/><rect class="bk" x="-2.2" y="-18" width="4.4" height="40"/></g>
<g transform="translate(781,789)"><rect class="c0" x="4" y="-9" width="5" height="9" rx="1.5"/><rect class="c1" x="10.3" y="-11" width="5" height="11" rx="1.5"/><rect class="c2" x="16.6" y="-12" width="5" height="12" rx="1.5"/><rect class="c3" x="22.9" y="-10" width="5" height="10" rx="1.5"/><rect class="c4" x="29.2" y="-8" width="5" height="8" rx="1.5"/><rect class="c5" x="35.5" y="-4" width="5" height="4" rx="1.5"/><rect class="c6" x="41.8" y="-4" width="5" height="4" rx="1.5"/><rect class="c7" x="48.1" y="-4" width="5" height="4" rx="1.5"/><rect class="c8" x="54.4" y="-4" width="5" height="4" rx="1.5"/><rect class="c9" x="60.7" y="-4" width="5" height="4" rx="1.5"/><rect class="bk" x="0" y="-2" width="64" height="4"/><rect class="bk" x="-2.2" y="-17" width="4.4" height="40"/></g>
<g transform="translate(443,1030)"><rect class="c0" x="4" y="-10" width="5" height="10" rx="1.5"/><rect class="c1" x="10.3" y="-10" width="5" height="10" rx="1.5"/><rect class="c2" x="16.6" y="-9" width="5" height="9" rx="1.5"/><rect class="c3" x="22.9" y="-9" width="5" height="9" rx="1.5"/><rect class="c4" x="29.2" y="-7" width="5" height="7" rx="1.5"/><rect class="c5" x="35.5" y="-6" width="5" height="6" rx="1.5"/><rect class="c6" x="41.8" y="-6" width="5" height="6" rx="1.5"/><rect class="c7" x="48.1" y="-6" width="5" height="6" rx="1.5"/><rect class="c8" x="54.4" y="-6" width="5" height="6" rx="1.5"/><rect class="c9" x="60.7" y="-6" width="5" height="6" rx="1.5"/><rect class="bk" x="0" y="-2" width="67" height="4"/><rect class="bk" x="-2.2" y="-18" width="4.4" height="38"/></g>
<g transform="translate(1188,1118)"><rect class="c0" x="4" y="-7" width="5" height="7" rx="1.5"/><rect class="c1" x="10.3" y="-9" width="5" height="9" rx="1.5"/><rect class="c2" x="16.6" y="-10" width="5" height="10" rx="1.5"/><rect class="c3" x="22.9" y="-8" width="5" height="8" rx="1.5"/><rect class="c5" x="35.5" y="-4" width="5" height="4" rx="1.5"/><rect class="c6" x="41.8" y="-5" width="5" height="5" rx="1.5"/><rect class="c7" x="48.1" y="-6" width="5" height="6" rx="1.5"/><rect class="c8" x="54.4" y="-6" width="5" height="6" rx="1.5"/><rect class="c9" x="60.7" y="-5" width="5" height="5" rx="1.5"/><rect class="bk" x="0" y="-2" width="70" height="4"/><rect class="bk" x="-2.2" y="-18" width="4.4" height="42"/></g>
</g>

<g id="connectors">
<path class="b" d="M228,214 L288,248"/>
<path class="r a" d="M301,194 L289,240"/>
<path class="p a" d="M288,248 L305,325"/>
<path class="b" d="M224,218 L274,285"/>
<path class="p a" d="M274,285 L295,326"/>
<use href="#sr" x="288" y="248"/><use href="#sr" x="274" y="285"/>
<use href="#mi" x="285" y="305"/><use href="#mi" x="300" y="302"/>
<path class="p a" d="M367,283 L390,214"/>
<path class="b a" d="M367,283 L337,327"/>
<use href="#sb" x="367" y="283"/><use href="#pl" x="381" y="240"/><use href="#pl" x="350" y="308"/>
<path class="p a" d="M237,322 L165,286"/>
<path class="b a" d="M237,322 L278,342"/>
<use href="#sb" x="237" y="322"/><use href="#pl" x="257" y="332"/>
<path class="b" d="M136,367 L224,370"/>
<path class="p a" d="M224,370 L272,363"/>
<use href="#sr" x="224" y="370"/><use href="#mi" x="246" y="367"/>
<path class="b a" d="M227,388 L280,374"/>
<use href="#sb" x="268" y="377"/><use href="#pl" x="256" y="388"/>
<path class="b" d="M224,404 L309,441"/>
<path class="p a" d="M309,441 L355,462"/>
<use href="#sb" x="309" y="441"/><use href="#pl" x="333" y="452"/>
<path class="c" d="M296,390 L262,427"/>
<path class="l a" d="M262,427 L209,462"/>
<use href="#dc" x="262" y="427"/>
<path class="c" d="M352,481 L301,484"/>
<path class="l a" d="M301,484 L213,481"/>
<use href="#dc" x="301" y="484"/>
<path class="b" d="M491,301 L424,332"/>
<path class="p a" d="M424,332 L365,350"/>
<use href="#sb" x="424" y="332"/><use href="#pl" x="385" y="344"/>
<path class="b" d="M505,313 L463,391"/>
<path class="p a" d="M463,391 L421,443"/>
<use href="#sb" x="463" y="391"/><use href="#pl" x="434" y="427"/>
<path class="b" d="M528,276 L579,231"/>
<path class="p a" d="M579,231 L611,186"/>
<use href="#sb" x="579" y="231"/><use href="#pl" x="597" y="206"/>
<path class="p a" d="M378,444 L344,389"/>
<use href="#pl" x="353" y="403"/>
<path class="b" d="M249,531 L287,463"/>
<path class="p a" d="M287,463 L306,391"/>
<use href="#sb" x="287" y="463"/><use href="#pl" x="301" y="411"/>
<path class="b" d="M321,390 L327,468"/>
<path class="p" d="M327,468 L327,521"/>
<path class="p a" d="M327,521 L324,543"/>
<path class="b a" d="M327,521 L264,546"/>
<path class="p a" d="M327,521 L362,497"/>
<use href="#sb" x="327" y="468"/><use href="#sb" x="327" y="521"/><use href="#pl" x="290" y="536"/>
<path class="b" d="M337,549 L367,528"/>
<path class="p a" d="M367,528 L382,507"/>
<use href="#sb" x="367" y="528"/>
<path class="b" d="M373,641 L391,577"/>
<path class="p a" d="M391,577 L396,508"/>
<use href="#sb" x="391" y="577"/><use href="#mi" x="394" y="533"/>
<path class="b" d="M561,476 L506,512"/>
<path class="p a" d="M506,512 L443,489"/>
<path class="r a" d="M508,552 L506,520"/>
<use href="#sr" x="506" y="512"/><use href="#pl" x="463" y="496"/>
<path class="b" d="M498,560 L465,535"/>
<path class="p a" d="M465,535 L433,500"/>
<use href="#sr" x="465" y="535"/><use href="#pl" x="447" y="515"/>
<path class="b a" d="M502,562 L427,500"/>
<path class="b" d="M560,592 L616,606"/>
<path class="b a" d="M616,606 L651,612"/>
<use href="#sb" x="616" y="606"/><use href="#pl" x="630" y="608"/>
<path class="b" d="M534,603 L575,690"/>
<path class="p a" d="M575,690 L604,757"/>
<use href="#sb" x="575" y="690"/><use href="#pl" x="594" y="734"/>
<path class="n a" d="M112,163 L138,146"/>
<path class="b a" d="M61,611 L105,591"/>
<use href="#sc" x="95" y="596"/><use href="#mi" x="84" y="601"/>
<use href="#sb" x="195" y="687"/>
<path class="n a" d="M186,684 L211,666"/>
<path class="b a" d="M349,750 L387,781"/>
<use href="#sb" x="378" y="773"/><use href="#mi" x="368" y="766"/>
<path class="b a" d="M447,784 L480,742"/>
<use href="#sb" x="459" y="769"/><use href="#mi" x="463" y="764"/>
<path class="o a" d="M396,839 L358,874"/>
<use href="#sb" x="377" y="857"/><use href="#pl" x="386" y="849"/>
<path class="c" d="M486,877 L464,857"/>
<path class="p a" d="M464,857 L441,839"/>
<use href="#sc" x="464" y="857"/><use href="#mi" x="456" y="851"/>
<path class="b a" d="M212,830 L245,816"/>
<use href="#sb" x="232" y="823"/>
<path class="b a" d="M183,872 L199,913"/>
<use href="#sb" x="194" y="900"/>
<path class="o" d="M452,1022 L474,1004"/>
<use href="#sb" x="466" y="1020"/>
<path class="c" d="M718,63 L687,105"/>
<path class="p a" d="M687,105 L661,127"/>
<use href="#sc" x="687" y="105"/>
<path class="b a" d="M703,243 L735,223"/>
<use href="#sb" x="722" y="233"/><use href="#pl" x="718" y="236"/>
<path class="b a" d="M963,144 L931,169"/>
<use href="#sr" x="947" y="157"/><use href="#pl" x="948" y="157"/>
<path class="b a" d="M930,318 L959,296"/>
<use href="#sr" x="945" y="307"/><use href="#mi" x="940" y="311"/>
<path class="b a" d="M765,379 L767,428"/>
<path class="b" d="M698,392 L742,418"/>
<path class="p a" d="M742,418 L768,436"/>
<use href="#sr" x="742" y="418"/><use href="#pl" x="746" y="421"/><use href="#mi" x="741" y="432"/>
<path class="r a" d="M722,468 L766,449"/>
<use href="#mi" x="734" y="463"/>
<path class="b a" d="M737,479 L772,465"/>
<use href="#sb" x="757" y="471"/><use href="#mi" x="752" y="474"/>
<path class="o a" d="M840,470 L896,492"/>
<use href="#sb" x="881" y="486"/>
<path class="p a" d="M884,578 L857,558"/>
<use href="#sb" x="879" y="574"/><use href="#pl" x="880" y="573"/>
<path class="c" d="M884,610 L862,618"/>
<path class="p a" d="M858,617 L834,563"/>
<path class="l a" d="M858,617 L813,627"/>
<path class="b" d="M868,652 L858,617"/>
<use href="#sb" x="858" y="617"/><use href="#dc" x="867" y="618"/><use href="#pl" x="843" y="585"/>
<path class="l a" d="M845,663 L809,646"/>
<use href="#dc" x="846" y="663"/>
<path class="b" d="M727,858 L687,837"/>
<path class="p a" d="M687,837 L648,815"/>
<use href="#sb" x="687" y="837"/><use href="#mi" x="668" y="826"/>
<path class="o a" d="M633,940 L622,823"/>
<use href="#sb" x="631" y="884"/>
<path class="b" d="M812,769 L786,790"/>

<path class="r a" d="M1353,862 L1328,958"/>
<path class="o" d="M1175,1110 L1323,967"/>
<path class="o a" d="M1323,967 L1412,935"/>
<use href="#sb" x="1323" y="967"/>
<path class="b" d="M1179,1115 L1302,1032"/>
<path class="p a" d="M1302,1032 L1418,940"/>
<use href="#so" x="1302" y="1032"/>
<path class="b" d="M1181,1120 L1262,1071"/>
<path class="p a" d="M1262,1071 L1350,1013"/>
<use href="#sb" x="1262" y="1071"/>
<path class="r a" d="M1443,1031 L1347,1055"/>
<path class="b" d="M1184,1127 L1340,1056"/>
<path class="p a" d="M1340,1056 L1360,1019"/>
<use href="#sb" x="1340" y="1056"/><use href="#mi" x="1377" y="1048"/>
<path class="o" d="M1186,1135 L1333,1137"/>
<path class="o a" d="M1333,1137 L1462,1127"/>
<use href="#sb" x="1333" y="1137"/>
<path class="b" d="M1374,1165 L1343,1181"/>
<path class="r a" d="M1185,1145 L1335,1179"/>
<path class="p a" d="M1343,1181 L1434,1226"/>
<use href="#sr" x="1343" y="1181"/><use href="#pl" x="1413" y="1216"/>
<path class="b" d="M1182,1150 L1318,1194"/>
<path class="p a" d="M1318,1194 L1433,1236"/>
<use href="#sr" x="1318" y="1194"/><use href="#pl" x="1411" y="1228"/>
<path class="b a" d="M1176,1157 L1318,1242"/>
<use href="#sb" x="1302" y="1232"/>
<path class="o" d="M1172,1161 L1325,1244"/>
<path class="o a" d="M1325,1244 L1410,1305"/>
<path class="r a" d="M1326,1306 L1325,1253"/>
<path class="p a" d="M1325,1244 L1432,1242"/>
<use href="#so" x="1325" y="1244"/><use href="#pl" x="1326" y="1281"/>
<path class="b" d="M1165,1163 L1270,1283"/>
<path class="p" d="M1270,1283 L1300,1311"/>
<use href="#sr" x="1270" y="1283"/>
<path class="b a" d="M1338,1370 L1362,1392"/>
<use href="#pl" x="1347" y="1378"/>
<path class="b" d="M1155,1165 L1210,1307"/>
<path class="p a" d="M1210,1307 L1246,1432"/>
<use href="#sr" x="1210" y="1307"/><use href="#mi" x="1237" y="1418"/><use href="#mi" x="1249" y="1418"/>
<path class="r a" d="M1148,1166 L1190,1338"/>
<path class="b" d="M1168,1387 L1192,1347"/>
<path class="p a" d="M1192,1347 L1243,1434"/>
<use href="#sr" x="1192" y="1347"/><use href="#mi" x="1182" y="1308"/>
<path class="r" d="M1130,1476 L1140,1449"/>
<path class="b" d="M1137,1166 L1105,1370"/>
<path class="b a" d="M1105,1370 L1119,1391"/>
<path class="p a" d="M1105,1370 L1046,1436"/>
<use href="#sr" x="1105" y="1370"/>
<path class="b" d="M1129,1165 L1085,1306"/>
<path class="p a" d="M1085,1306 L1036,1434"/>
<use href="#sr" x="1085" y="1306"/>
<path class="b a" d="M1040,1319 L1106,1162"/>
<path class="b" d="M1047,1324 L1091,1245"/>
<path class="b a" d="M1091,1245 L1117,1165"/>
<use href="#sb" x="1091" y="1245"/><use href="#pl" x="1110" y="1188"/>
<path class="p a" d="M1025,1363 L1021,1432"/>
<path class="r a" d="M929,1386 L1006,1349"/>
<use href="#pl" x="993" y="1355"/>
<path class="b" d="M1106,1152 L1033,1224"/>
<path class="p a" d="M1033,1224 L947,1274"/>
<use href="#sr" x="1033" y="1224"/>
<path class="o" d="M1099,1146 L980,1212"/>
<path class="o a" d="M980,1212 L847,1266"/>
<use href="#sb" x="980" y="1212"/>
<path class="r" d="M1095,1130 L990,1128"/>
<path class="r a" d="M990,1128 L963,1128"/>
<path class="b a" d="M857,1163 L947,1131"/>
<use href="#sr" x="955" y="1128"/><use href="#pl" x="990" y="1128"/><use href="#pl" x="918" y="1141"/>
<path class="r" d="M810,1080 L940,1094"/>
<path class="b" d="M940,1094 L1096,1125"/>
<path class="p" d="M940,1094 L955,1128"/>
<path class="p a" d="M940,1094 L922,1076"/>
<use href="#sr" x="940" y="1094"/><use href="#pl" x="902" y="1090"/><use href="#mi" x="918" y="1092"/>
<path class="b" d="M1097,1120 L1018,1100"/>
<path class="p a" d="M1018,1100 L923,1066"/>
<use href="#sr" x="1018" y="1100"/><use href="#mi" x="942" y="1073"/>
<path class="r" d="M1097,1115 L985,1068"/>
<path class="r a" d="M985,1068 L959,1057"/>
<path class="b" d="M846,985 L950,1053"/>
<path class="p a" d="M950,1053 L925,1050"/>
<use href="#sr" x="950" y="1053"/><use href="#pl" x="985" y="1068"/><use href="#mi" x="946" y="1049"/>
<path class="r a" d="M897,888 L966,1017"/>
<path class="b" d="M975,1026 L1100,1110"/>
<path class="p a" d="M975,1026 L923,1037"/>
<use href="#sr" x="975" y="1026"/><use href="#pl" x="955" y="996"/><use href="#pl" x="947" y="1032"/>
<path class="c" d="M990,948 L1065,1038"/>
<path class="l a" d="M1065,1038 L1113,1101"/>
<use href="#sc" x="1065" y="1038"/>
<path class="b" d="M1122,1101 L1076,971"/>
<path class="p a" d="M1076,971 L1013,829"/>
<use href="#sr" x="1076" y="971"/>
<path class="b" d="M1136,1100 L1137,955"/>
<path class="p a" d="M1137,955 L1121,795"/>
<use href="#sr" x="1137" y="955"/>
<path class="o" d="M1110,882 L1132,1005"/>
<path class="o a" d="M1132,1005 L1140,1100"/>
<use href="#sb" x="1132" y="1005"/>
<path class="o" d="M1236,796 L1199,960"/>
<path class="o a" d="M1199,960 L1150,1101"/>
<use href="#sb" x="1199" y="960"/><use href="#mi" x="1157" y="1080"/>
<path class="b" d="M1250,904 L1207,1016"/>
<path class="p a" d="M1207,1016 L1157,1103"/>
<use href="#sb" x="1207" y="1016"/><use href="#pl" x="1169" y="1082"/>
</g>
</g>
</svg>
